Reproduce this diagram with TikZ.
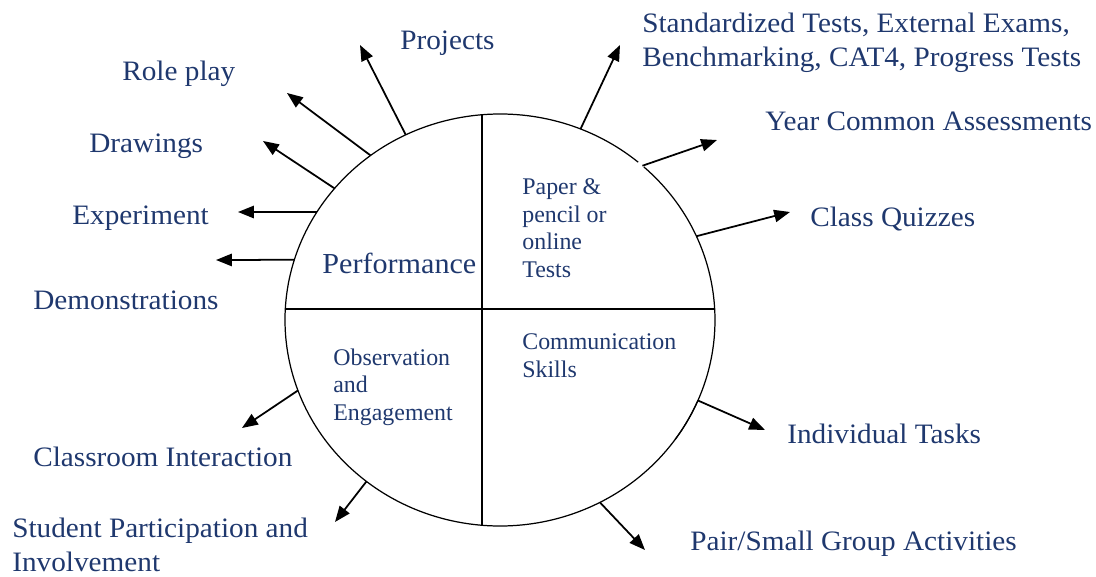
\documentclass[tikz,border=0pt]{standalone}
\usepackage{fontspec}
\setmainfont{Liberation Serif}
\newfontfamily\outerfont{Liberation Serif}[FakeStretch=1.04]
\usetikzlibrary{arrows.meta,calc}

\definecolor{labelblue}{RGB}{31,56,110}

\tikzset{
  lbl/.style={text=labelblue, inner sep=0pt, anchor=base west, align=left, font=\outerfont\fontsize{16}{19}\selectfont},
  inlbl/.style={text=labelblue, inner sep=0pt, anchor=base west, align=left, font=\fontsize{13.6}{15.6}\selectfont},
  spoke/.style={line width=1pt, -{Triangle[length=9pt,width=7pt]}}
}

\begin{document}
\begin{tikzpicture}[x=0.02cm,y=0.02cm]

\useasboundingbox (0,0) rectangle (1096,576);

\coordinate (O) at (500,256);

\draw [line width=0.7pt] ($(O)+(50:215 and 206)$) arc [start angle=50, end angle=337, x radius=215, y radius=206];
\draw [line width=0.7pt] ($(O)+(-35.5:215 and 206)$) arc [start angle=-35.5, end angle=48, x radius=215, y radius=206];

\draw [line width=0.9pt] (285.3,267) -- (714.7,267);
\draw [line width=0.9pt] (482,50.7) -- (482,461.3);

\coordinate (tPro) at ($(O)+(116:215 and 206)$);
\coordinate (tRol) at ($(O)+(127:215 and 206)$);
\coordinate (tDra) at ($(O)+(140.3:215 and 206)$);
\coordinate (tExp) at ($(O)+(148.4:215 and 206)$);
\coordinate (tDem) at ($(O)+(163:215 and 206)$);
\coordinate (tCla) at ($(O)+(200:215 and 206)$);
\coordinate (tStu) at ($(O)+(231.6:215 and 206)$);
\coordinate (tPai) at ($(O)+(297.7:215 and 206)$);
\coordinate (tInd) at ($(O)+(337:215 and 206)$);
\coordinate (tQui) at ($(O)+(24:215 and 206)$);
\coordinate (tYea) at ($(O)+(48.5:215 and 206)$);
\coordinate (tSta) at ($(O)+(68:215 and 206)$);

\coordinate (hPro) at (360,531);
\coordinate (hRol) at (287,483);
\coordinate (hDra) at (263,435);
\coordinate (hExp) at (238,364);
\coordinate (hDem) at (216,316);
\coordinate (hCla) at (242,148);
\coordinate (hStu) at (335,54);
\coordinate (hPai) at (645,26);
\coordinate (hInd) at (765,146);
\coordinate (hQui) at (790,364);
\coordinate (hYea) at (717,436);
\coordinate (hSta) at (620,531);

\foreach \s in {Pro,Rol,Dra,Exp,Dem,Cla,Stu,Pai,Ind,Qui,Yea,Sta}
  \draw [spoke] (t\s) -- (h\s);

\node [lbl] (projects) at (400,526) {Projects};
\node [lbl] (roleplay) at (122,496) {Role play};
\node [lbl] (drawings) at (89,424) {Drawings};
\node [lbl] (experiment) at (72,352) {Experiment};
\node [lbl] (demos) at (33,267) {Demonstrations};
\node [lbl] (standard) at (642,510) {Standardized Tests, External Exams,\\Benchmarking, CAT4, Progress Tests};
\node [lbl] (yearcommon) at (765,446) {Year Common Assessments};
\node [lbl] (quizzes) at (810,350) {Class Quizzes};
\node [lbl] (individual) at (787,133) {Individual Tasks};
\node [lbl] (pairgroup) at (690,26) {Pair/Small Group Activities};
\node [lbl] (classroom) at (33,110) {Classroom Interaction};
\node [lbl] (student) at (12,5) {Student Participation and\\Involvement};

\node [lbl, font=\outerfont\fontsize{16.5}{19}\selectfont] (performance) at (322,303) {Performance};
\node [inlbl] (paper) at (522,299) {Paper \&\\pencil or\\online\\Tests};
\node [inlbl] (communication) at (522,199) {Communication\\Skills};
\node [inlbl] (observation) at (333,156) {Observation\\and\\Engagement};

\end{tikzpicture}
\end{document}
